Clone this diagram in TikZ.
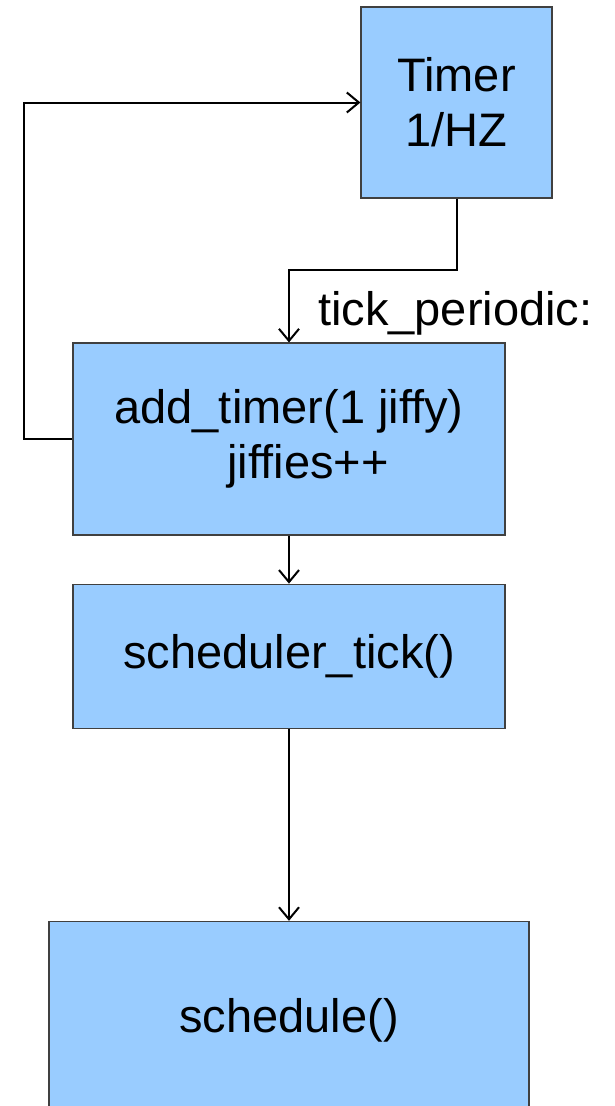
\documentclass[tikz,border=0pt]{standalone}
\usepackage{fontspec}
\setmainfont{Liberation Sans}
\usetikzlibrary{positioning,arrows.meta}
\definecolor{boxblue}{HTML}{99CCFF}

\begin{document}
\begin{tikzpicture}[x=1pt, y=-1pt, node distance=48pt, arrow/.style={-{Straight Barb[length=12pt,width=20pt]}, line width=2pt}, box/.style={rectangle, draw=black!75, line width=1.2pt, fill=boxblue, align=center, inner sep=0pt, font=\fontsize{47}{55}\selectfont}, note/.style={inner sep=0pt, font=\fontsize{47}{55}\selectfont}]

    \useasboundingbox (0,0) rectangle (615,1106);

    \node [box, minimum width=191pt, minimum height=191pt] (timer) at (456.5,102.5) {Timer\\1/HZ};
    \node [box, minimum width=432pt, minimum height=192pt] (addtimer) at (289,439) {add\_timer(1 jiffy)\\\hspace*{38pt}jiffies++};
    \node [box, minimum width=432pt, minimum height=144pt, below = of addtimer] (schedtick) {scheduler\_tick()};
    \node [box, minimum width=480pt, minimum height=198pt, below = 192pt of schedtick] (schedule) {schedule()};
    \node [note, anchor=base west] (tickper) at (318,325) {tick\_periodic:};

    \draw[arrow] (timer.south) |- (addtimer.north |- 0,270) -- (addtimer.north);
    \draw[arrow] (addtimer.west) -- ++(-48,0) |- (timer.west);
    \draw[arrow] (addtimer) -- (schedtick);
    \draw[arrow] (schedtick) -- (schedule);

\end{tikzpicture}
\end{document}
